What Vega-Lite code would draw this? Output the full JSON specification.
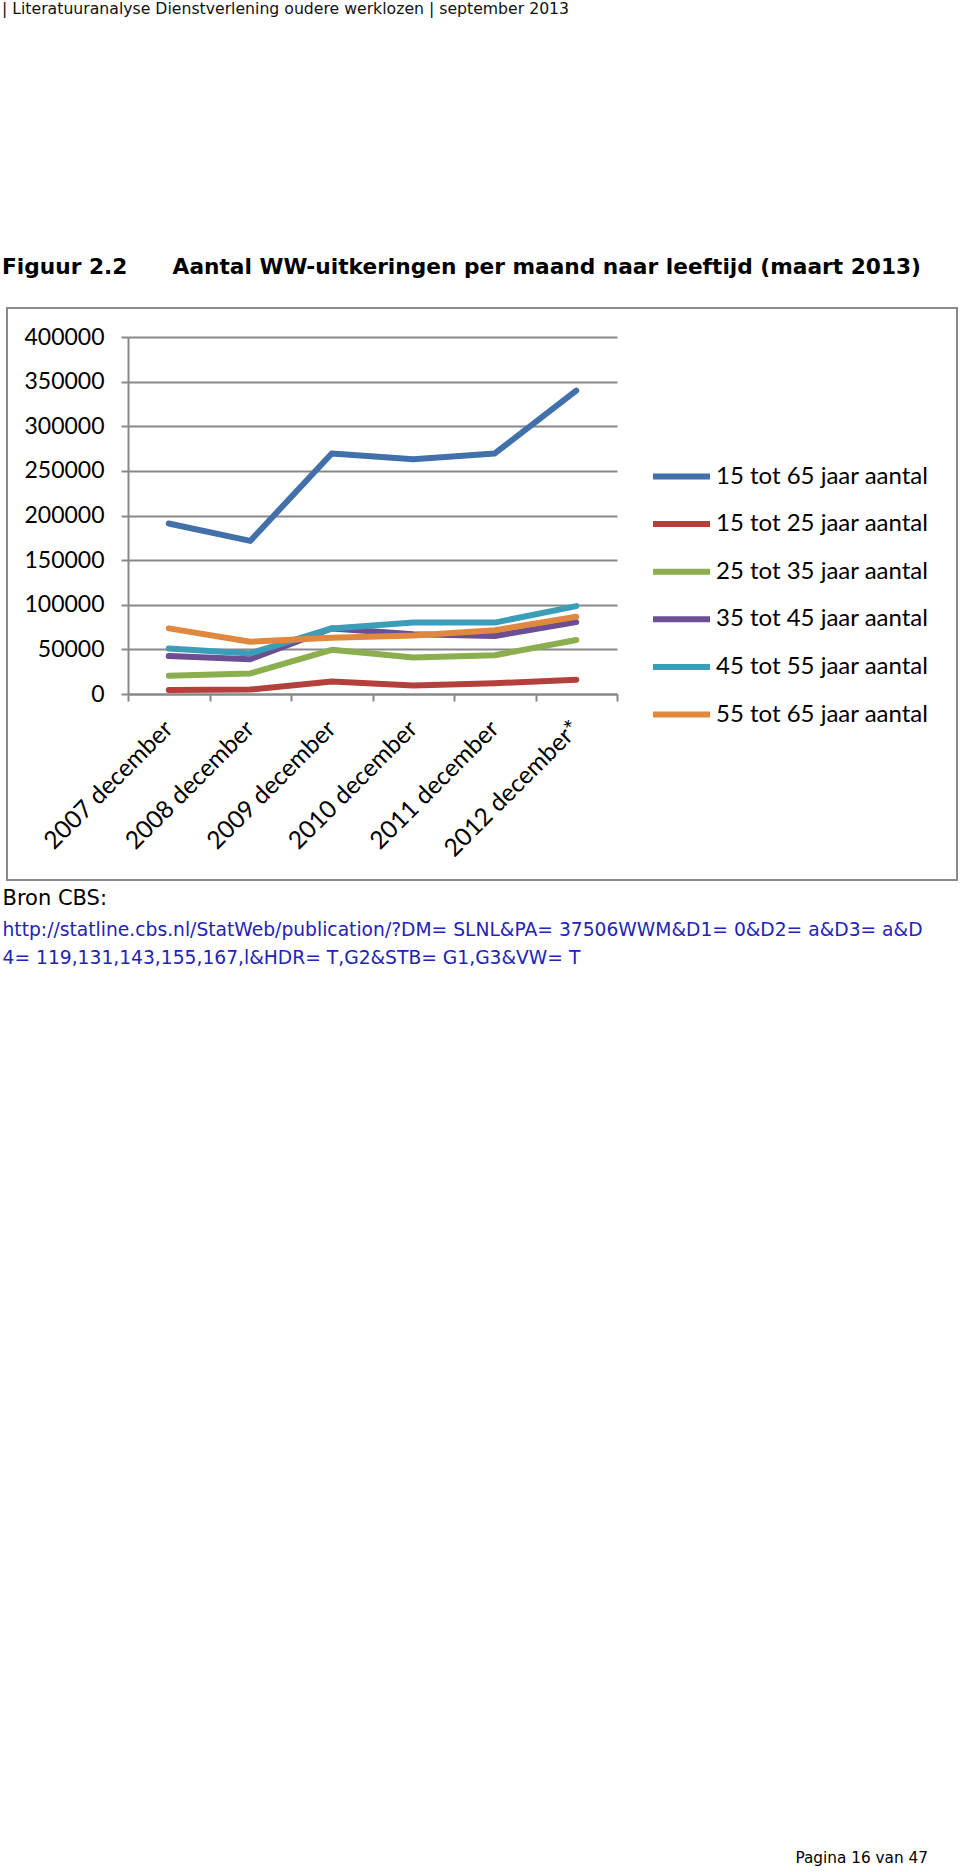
{
  "$schema": "https://vega.github.io/schema/vega-lite/v6.json",
  "autosize": {"type": "none"},
  "padding": {"left": 7, "top": 308, "right": 3, "bottom": 992},
  "width": 950,
  "height": 572,
  "background": "white",
  "config": {
    "view": {"stroke": "#8a8a8a", "strokeWidth": 2}
  },
  "title": {
    "text": "| Literatuuranalyse Dienstverlening oudere werklozen | september 2013",
    "subtitle": "Figuur 2.2\u00a0\u00a0\u00a0\u00a0\u00a0\u00a0Aantal WW-uitkeringen per maand naar leeftijd (maart 2013)",
    "anchor": "start",
    "frame": "group",
    "dx": -5,
    "offset": 28,
    "font": "DejaVu Sans",
    "fontSize": 15.7,
    "fontWeight": "normal",
    "color": "#111111",
    "subtitleFont": "DejaVu Sans",
    "subtitleFontSize": 21.7,
    "subtitleFontWeight": "bold",
    "subtitleColor": "#000000",
    "subtitlePadding": 240
  },
  "data": {
    "values": [
      {"periode": "2007 december", "serie": "15 tot 65 jaar aantal", "aantal": 191000},
      {"periode": "2008 december", "serie": "15 tot 65 jaar aantal", "aantal": 171500},
      {"periode": "2009 december", "serie": "15 tot 65 jaar aantal", "aantal": 269500},
      {"periode": "2010 december", "serie": "15 tot 65 jaar aantal", "aantal": 263000},
      {"periode": "2011 december", "serie": "15 tot 65 jaar aantal", "aantal": 269500},
      {"periode": "2012 december*", "serie": "15 tot 65 jaar aantal", "aantal": 340000},
      {"periode": "2007 december", "serie": "15 tot 25 jaar aantal", "aantal": 4500},
      {"periode": "2008 december", "serie": "15 tot 25 jaar aantal", "aantal": 5000},
      {"periode": "2009 december", "serie": "15 tot 25 jaar aantal", "aantal": 14000},
      {"periode": "2010 december", "serie": "15 tot 25 jaar aantal", "aantal": 9500},
      {"periode": "2011 december", "serie": "15 tot 25 jaar aantal", "aantal": 12000},
      {"periode": "2012 december*", "serie": "15 tot 25 jaar aantal", "aantal": 16000},
      {"periode": "2007 december", "serie": "25 tot 35 jaar aantal", "aantal": 20500},
      {"periode": "2008 december", "serie": "25 tot 35 jaar aantal", "aantal": 23000},
      {"periode": "2009 december", "serie": "25 tot 35 jaar aantal", "aantal": 49500},
      {"periode": "2010 december", "serie": "25 tot 35 jaar aantal", "aantal": 41000},
      {"periode": "2011 december", "serie": "25 tot 35 jaar aantal", "aantal": 43500},
      {"periode": "2012 december*", "serie": "25 tot 35 jaar aantal", "aantal": 60500},
      {"periode": "2007 december", "serie": "35 tot 45 jaar aantal", "aantal": 42500},
      {"periode": "2008 december", "serie": "35 tot 45 jaar aantal", "aantal": 39000},
      {"periode": "2009 december", "serie": "35 tot 45 jaar aantal", "aantal": 73500},
      {"periode": "2010 december", "serie": "35 tot 45 jaar aantal", "aantal": 67000},
      {"periode": "2011 december", "serie": "35 tot 45 jaar aantal", "aantal": 65000},
      {"periode": "2012 december*", "serie": "35 tot 45 jaar aantal", "aantal": 80500},
      {"periode": "2007 december", "serie": "45 tot 55 jaar aantal", "aantal": 51000},
      {"periode": "2008 december", "serie": "45 tot 55 jaar aantal", "aantal": 45500},
      {"periode": "2009 december", "serie": "45 tot 55 jaar aantal", "aantal": 73500},
      {"periode": "2010 december", "serie": "45 tot 55 jaar aantal", "aantal": 80000},
      {"periode": "2011 december", "serie": "45 tot 55 jaar aantal", "aantal": 80000},
      {"periode": "2012 december*", "serie": "45 tot 55 jaar aantal", "aantal": 98500},
      {"periode": "2007 december", "serie": "55 tot 65 jaar aantal", "aantal": 73500},
      {"periode": "2008 december", "serie": "55 tot 65 jaar aantal", "aantal": 58500},
      {"periode": "2009 december", "serie": "55 tot 65 jaar aantal", "aantal": 63000},
      {"periode": "2010 december", "serie": "55 tot 65 jaar aantal", "aantal": 65500},
      {"periode": "2011 december", "serie": "55 tot 65 jaar aantal", "aantal": 71500},
      {"periode": "2012 december*", "serie": "55 tot 65 jaar aantal", "aantal": 86500}
    ]
  },
  "mark": {"type": "line", "strokeWidth": 6, "strokeCap": "round", "strokeJoin": "round"},
  "encoding": {
    "x": {
      "field": "periode",
      "type": "ordinal",
      "sort": null,
      "bandPosition": 0.5,
      "scale": {"type": "band", "range": [121, 610], "paddingInner": 0, "paddingOuter": 0},
      "axis": {
        "orient": "bottom",
        "offset": -186,
        "labelAngle": -45,
        "labelAlign": "right",
        "labelBaseline": "middle",
        "labelFont": "Lato",
        "labelFontSize": 24.5,
        "labelColor": "#000000",
        "labelPadding": 24,
        "labelOverlap": false,
        "labelLimit": 0,
        "tickBand": "extent",
        "tickSize": 7,
        "tickColor": "#888888",
        "tickWidth": 2,
        "domainColor": "#888888",
        "domainWidth": 2,
        "grid": false,
        "title": "Bron CBS:",
        "titleX": -5,
        "titleY": 210,
        "titleAlign": "left",
        "titleAnchor": "start",
        "titleBaseline": "alphabetic",
        "titleFont": "DejaVu Sans",
        "titleFontSize": 21,
        "titleFontWeight": "normal",
        "titleColor": "#000000"
      }
    },
    "y": {
      "field": "aantal",
      "type": "quantitative",
      "scale": {"domain": [0, 400000], "range": [386, 29], "nice": false, "zero": true},
      "axis": {
        "orient": "left",
        "offset": -121,
        "values": [0, 50000, 100000, 150000, 200000, 250000, 300000, 350000, 400000],
        "format": "d",
        "labelFont": "Lato",
        "labelFontSize": 23,
        "labelColor": "#000000",
        "labelPadding": 17,
        "labelFlush": false,
        "labelOverlap": false,
        "tickSize": 7,
        "tickColor": "#888888",
        "tickWidth": 2,
        "domainColor": "#888888",
        "domainWidth": 2,
        "grid": true,
        "gridColor": "#888888",
        "gridWidth": 2,
        "title": [
          "http://statline.cbs.nl/StatWeb/publication/?DM= SLNL&PA= 37506WWM&D1= 0&D2= a&D3= a&D",
          "4= 119,131,143,155,167,l&HDR= T,G2&STB= G1,G3&VW= T"
        ],
        "titleX": -126,
        "titleY": 612,
        "titleAngle": 0,
        "titleAlign": "left",
        "titleAnchor": "start",
        "titleBaseline": "top",
        "titleFont": "DejaVu Sans",
        "titleFontSize": 18.7,
        "titleFontWeight": "normal",
        "titleColor": "#2323b5",
        "titleLineHeight": 28
      }
    },
    "color": {
      "field": "serie",
      "type": "nominal",
      "sort": null,
      "scale": {
        "domain": ["15 tot 65 jaar aantal", "15 tot 25 jaar aantal", "25 tot 35 jaar aantal", "35 tot 45 jaar aantal", "45 tot 55 jaar aantal", "55 tot 65 jaar aantal"],
        "range": ["#4170aa", "#b4403c", "#8baf4e", "#6b4f92", "#3c9db8", "#e0883f"]
      },
      "legend": {
        "orient": "none",
        "legendX": 643,
        "legendY": 137,
        "padding": 0,
        "symbolType": "stroke",
        "symbolSize": 3249,
        "symbolStrokeWidth": 6,
        "labelFont": "Lato",
        "labelFontSize": 24,
        "labelColor": "#000000",
        "labelOffset": 3,
        "labelLimit": 0,
        "rowPadding": 3.6,
        "title": "Pagina 16 van 47",
        "titleOrient": "bottom",
        "titleAnchor": "end",
        "titlePadding": 1124,
        "titleFont": "DejaVu Sans",
        "titleFontSize": 15.3,
        "titleFontWeight": "normal",
        "titleColor": "#000000"
      }
    }
  }
}
